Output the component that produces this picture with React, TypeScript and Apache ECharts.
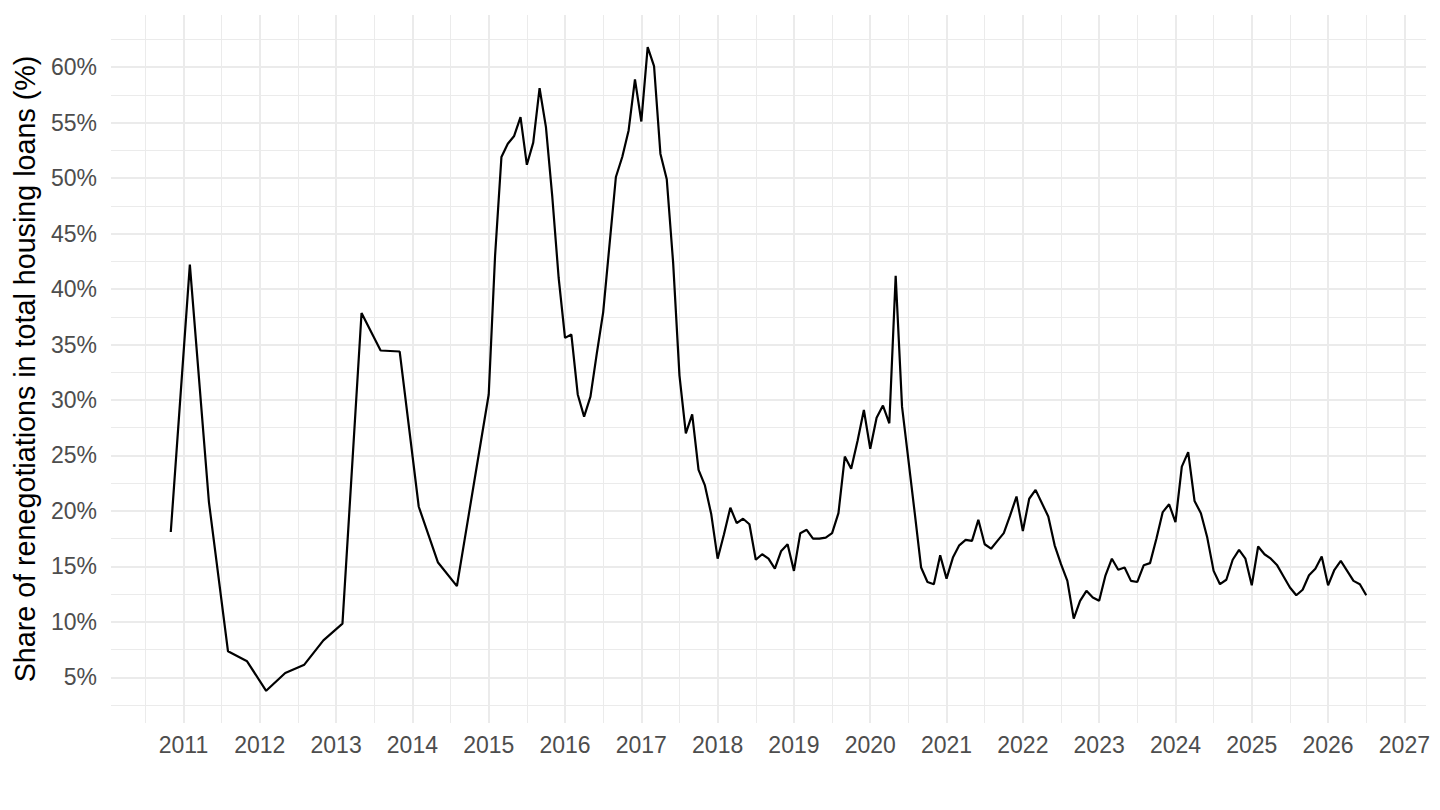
import React, { useEffect, useRef } from "react";
import * as echarts from "echarts";

// Dates (YYYY-MM) and share of renegotiations in total housing loans (%)
const quarterlyDates = [
  "2010-11", "2011-02", "2011-05", "2011-08", "2011-11",
  "2012-02", "2012-05", "2012-08", "2012-11",
  "2013-02", "2013-05", "2013-08", "2013-11",
  "2014-02", "2014-05", "2014-08", "2014-11",
];
const quarterlyValues = [
  18.1, 42.2, 20.8, 7.35, 6.45,
  3.79, 5.4, 6.15, 8.34,
  9.84, 37.84, 34.46, 34.37,
  20.38, 15.38, 13.22, 23.6,
];

const monthlyStart = "2015-01";
const monthlyValues = [
  // 2015
  30.5, 43.0, 51.9, 53.1, 53.8, 55.5, 51.2, 53.2, 58.1, 54.6, 48.3, 41.0,
  // 2016
  35.6, 35.9, 30.5, 28.5, 30.3, 34.2, 37.9, 44.0, 50.1, 51.9, 54.3, 58.9,
  // 2017
  55.1, 61.8, 60.1, 52.2, 49.9, 42.4, 32.2, 27.0, 28.7, 23.7, 22.3, 19.7,
  // 2018
  15.7, 17.9, 20.3, 18.9, 19.3, 18.8, 15.6, 16.1, 15.7, 14.8, 16.4, 17.0,
  // 2019
  14.6, 18.0, 18.3, 17.5, 17.5, 17.6, 18.0, 19.8, 24.9, 23.8, 26.3, 29.1,
  // 2020
  25.6, 28.4, 29.5, 27.9, 41.2, 29.4, 24.6, 19.8, 14.9, 13.6, 13.4, 16.0,
  // 2021
  13.9, 15.8, 16.9, 17.4, 17.3, 19.2, 17.0, 16.6, 17.3, 18.0, 19.6, 21.3,
  // 2022
  18.2, 21.1, 21.9, 20.7, 19.5, 16.9, 15.2, 13.7, 10.3, 11.9, 12.8, 12.2,
  // 2023
  11.9, 14.2, 15.7, 14.7, 14.9, 13.7, 13.6, 15.1, 15.3, 17.5, 19.9, 20.6,
  // 2024
  19.0, 24.0, 25.3, 20.9, 19.8, 17.6, 14.6, 13.4, 13.8, 15.6, 16.5, 15.7,
  // 2025
  13.3, 16.8, 16.1, 15.7, 15.1, 14.1, 13.1, 12.4, 12.9, 14.2, 14.8, 15.9,
  // 2026
  13.3, 14.7, 15.5, 14.6, 13.7, 13.4, 12.4,
];

const yTickValues = [5, 10, 15, 20, 25, 30, 35, 40, 45, 50, 55, 60];
const yAxisTitle = "Share of renegotiations in total housing loans (%)";

function toDecimalYear(ym: string): number {
  const [y, m] = ym.split("-").map(Number);
  return y + (m - 1) / 12;
}

function buildSeries(): [number, number][] {
  const pts: [number, number][] = quarterlyDates.map((d, i) => [
    toDecimalYear(d),
    quarterlyValues[i],
  ]);
  const start = toDecimalYear(monthlyStart);
  monthlyValues.forEach((v, i) => {
    pts.push([start + i / 12, v]);
  });
  return pts;
}

const FONT = "'Liberation Sans', Arial, Helvetica, sans-serif";
const GRID = "#EBEBEB";

export default function App() {
  const ref = useRef<HTMLDivElement>(null);

  useEffect(() => {
    if (!ref.current) return;
    const chart = echarts.init(ref.current, undefined, { renderer: "svg" });
    const data = buildSeries();
    const xs = data.map((p) => p[0]);
    const ys = data.map((p) => p[1]);
    const xMin = Math.min(...xs);
    const xMax = Math.max(...xs);
    const yMin = Math.min(...ys);
    const yMax = Math.max(...ys);
    const xPad = (xMax - xMin) * 0.05;
    const yPad = (yMax - yMin) * 0.05;

    chart.setOption({
      animation: false,
      backgroundColor: "#ffffff",
      textStyle: { fontFamily: FONT },
      grid: { left: 111, right: 14, top: 15, bottom: 87 },
      xAxis: {
        type: "value",
        min: xMin - xPad,
        max: xMax + xPad,
        minInterval: 1,
        maxInterval: 1,
        axisLine: { show: false },
        axisTick: { show: false },
        minorTick: { show: false, splitNumber: 2 },
        axisLabel: {
          margin: 10,
          fontSize: 23,
          color: "#4D4D4D",
          fontFamily: FONT,
          showMinLabel: false,
          showMaxLabel: false,
          formatter: (v: number) =>
            Math.abs(v - Math.round(v)) < 1e-6 ? String(Math.round(v)) : "",
        },
        splitLine: {
          show: true,
          showMinLine: false,
          showMaxLine: false,
          lineStyle: { color: GRID, width: 2 },
        },
        minorSplitLine: { show: true, lineStyle: { color: GRID, width: 1 } },
      },
      yAxis: {
        type: "value",
        min: yMin - yPad,
        max: yMax + yPad,
        minInterval: 5,
        maxInterval: 5,
        axisLine: { show: false },
        axisTick: { show: false },
        minorTick: { show: false, splitNumber: 2 },
        axisLabel: {
          margin: 14,
          fontSize: 23,
          color: "#4D4D4D",
          fontFamily: FONT,
          showMinLabel: false,
          showMaxLabel: false,
          formatter: (v: number) => {
            const r = Math.round(v);
            return Math.abs(v - r) < 1e-6 && yTickValues.includes(r)
              ? `${r}%`
              : "";
          },
        },
        splitLine: {
          show: true,
          showMinLine: false,
          showMaxLine: false,
          lineStyle: { color: GRID, width: 2 },
        },
        minorSplitLine: { show: true, lineStyle: { color: GRID, width: 1 } },
        name: yAxisTitle,
        nameLocation: "middle",
        nameRotate: 90,
        nameGap: 72,
        nameTextStyle: { fontSize: 28.7, color: "#000000", fontFamily: FONT },
      },
      series: [
        {
          type: "line",
          data,
          showSymbol: false,
          symbol: "none",
          smooth: false,
          lineStyle: { color: "#000000", width: 2.2 },
          z: 5,
        },
      ],
    });

    return () => chart.dispose();
  }, []);

  return (
    <div
      ref={ref}
      style={{
        position: "fixed",
        left: 0,
        top: 0,
        width: 1440,
        height: 810,
        background: "#ffffff",
      }}
    />
  );
}
